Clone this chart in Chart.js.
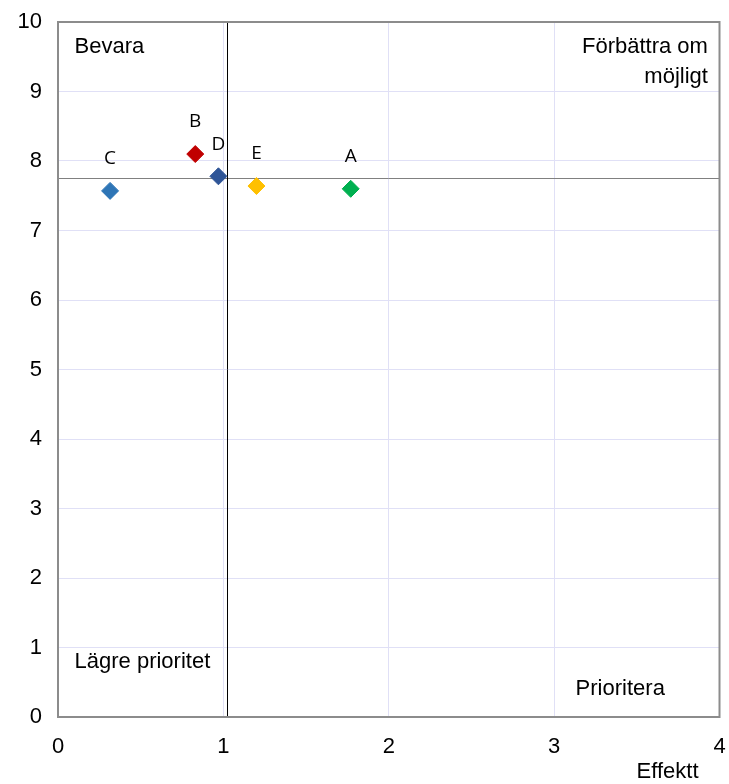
<!DOCTYPE html>
<html>
<head>
<meta charset="utf-8">
<script src="https://cdn.jsdelivr.net/npm/chart.js@4.4.0/dist/chart.umd.min.js"></script>
<style>
  html, body { margin: 0; padding: 0; background: #fff; }
  #wrap { width: 729px; height: 784px; }
</style>
</head>
<body>
<div id="wrap"><canvas id="grafico"></canvas></div>
<script>
// Data
const etiketter = ['A', 'B', 'C', 'D', 'E'];
const effekt = [1.77, 0.83, 0.315, 0.97, 1.2];
const betyg = [7.6, 8.1, 7.57, 7.78, 7.64];
const farger = ['#00B050', '#C00000', '#2E75B6', '#2F5597', '#FFC000'];
const xTicks = [0, 1, 2, 3, 4];
const yTicks = [0, 1, 2, 3, 4, 5, 6, 7, 8, 9, 10];
const medelEffekt = 1.02;
const medelBetyg = 7.75;

// Kvadrant-texter (x, y i datavärden)
const kvadranter = [
    { text: 'Bevara', x: 0.1, y: 9.64, align: 'left' },
    { text: 'Förbättra om', x: 3.93, y: 9.64, align: 'right' },
    { text: 'möjligt', x: 3.93, y: 9.21, align: 'right' },
    { text: 'Lägre prioritet', x: 0.1, y: 0.79, align: 'left' },
    { text: 'Prioritera', x: 3.13, y: 0.41, align: 'left' }
];

const textFont = '22px "Liberation Sans", Arial, sans-serif';

const datasets = etiketter.map((namn, i) => ({
    label: namn,
    data: [{ x: effekt[i], y: betyg[i] }],
    backgroundColor: farger[i],
    borderColor: farger[i],
    borderWidth: 1,
    pointStyle: 'rectRot',
    pointRadius: 8.5,
    pointHoverRadius: 8.5
}));

const extraPlugin = {
    id: 'extra',
    beforeDatasetsDraw(chart) {
        const ctx = chart.ctx;
        const a = chart.chartArea;
        const xs = chart.scales.x;
        const ys = chart.scales.y;
        ctx.save();
        // medellinjer
        ctx.lineWidth = 1;
        ctx.strokeStyle = '#808080';
        const hy = Math.round(ys.getPixelForValue(medelBetyg)) + 0.5;
        ctx.beginPath();
        ctx.moveTo(a.left, hy);
        ctx.lineTo(a.right, hy);
        ctx.stroke();
        ctx.strokeStyle = '#000000';
        const vx = Math.round(xs.getPixelForValue(medelEffekt)) + 0.5;
        ctx.beginPath();
        ctx.moveTo(vx, a.top);
        ctx.lineTo(vx, a.bottom);
        ctx.stroke();
        // ram
        ctx.strokeStyle = '#8c8c8c';
        ctx.lineWidth = 2;
        ctx.strokeRect(a.left, a.top, a.right - a.left, a.bottom - a.top);
        ctx.restore();
    },
    afterDatasetsDraw(chart) {
        const ctx = chart.ctx;
        const a = chart.chartArea;
        const xs = chart.scales.x;
        const ys = chart.scales.y;
        ctx.save();
        ctx.fillStyle = '#000';
        ctx.textBaseline = 'middle';
        ctx.font = textFont;
        kvadranter.forEach(k => {
            ctx.textAlign = k.align;
            ctx.fillText(k.text, xs.getPixelForValue(k.x), ys.getPixelForValue(k.y));
        });
        // punktetiketter
        ctx.font = '19px "Open Sans", "Noto Sans", sans-serif';
        ctx.textAlign = 'center';
        etiketter.forEach((namn, i) => {
            const px = xs.getPixelForValue(effekt[i]);
            const py = ys.getPixelForValue(betyg[i]);
            ctx.fillText(namn, px, py - 32);
        });
        // axeltitel
        ctx.font = textFont;
        ctx.textAlign = 'right';
        ctx.fillText('Effektt', a.right - 21, a.bottom + 55);
        ctx.restore();
    }
};

const ctx = document.getElementById('grafico').getContext('2d');
new Chart(ctx, {
    type: 'scatter',
    data: { datasets: datasets },
    options: {
        responsive: true,
        maintainAspectRatio: false,
        animation: false,
        layout: { padding: { top: 22, right: 7, left: 0, bottom: 0 } },
        plugins: {
            legend: { display: false },
            tooltip: { enabled: false }
        },
        scales: {
            x: {
                type: 'linear',
                min: 0,
                max: 4,
                afterBuildTicks: s => { s.ticks = xTicks.map(v => ({ value: v })); },
                afterFit: s => {
                    s.height = 67;
                    s.paddingLeft = 0;
                    s.paddingRight = 0;
                },
                grid: { color: '#e0e0f6', lineWidth: 1, drawTicks: false },
                border: { display: false },
                ticks: {
                    padding: 17,
                    color: '#000',
                    font: { family: '"Liberation Sans", Arial, sans-serif', size: 22 }
                }
            },
            y: {
                type: 'linear',
                min: 0,
                max: 10,
                afterBuildTicks: s => { s.ticks = yTicks.map(v => ({ value: v })); },
                afterFit: s => {
                    s.width = 58;
                    s.paddingTop = 0;
                    s.paddingBottom = 0;
                },
                grid: { color: '#e0e0f6', lineWidth: 1, drawTicks: false },
                border: { display: false },
                ticks: {
                    padding: 16,
                    color: '#000',
                    font: { family: '"Liberation Sans", Arial, sans-serif', size: 22 }
                }
            }
        }
    },
    plugins: [extraPlugin]
});
</script>
</body>
</html>
